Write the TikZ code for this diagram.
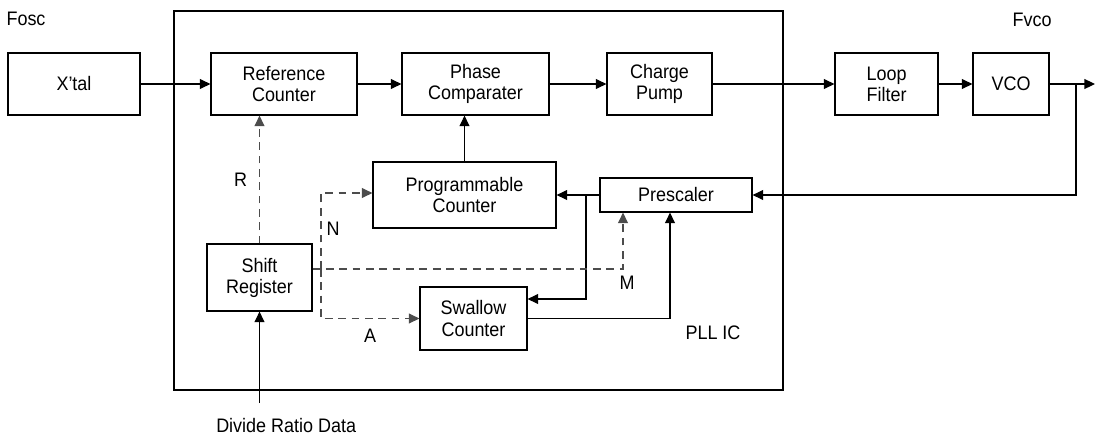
\documentclass[tikz,border=0pt]{standalone}
\usepackage{fontspec}
\setmainfont{Liberation Sans}[FakeStretch=0.92]
\usetikzlibrary{arrows.meta}
\begin{document}
\begin{tikzpicture}[x=0.025cm,y=-0.025cm,
    font=\fontsize{13.9}{15}\selectfont,
    line width=0.8pt,
    blk/.style={draw, align=center, inner sep=0pt, minimum height=1.55cm},
    arr/.style={-{Triangle[length=7.5pt,width=7pt]}},
    dsh/.style={dash pattern=on 5.5pt off 4pt, draw=black!70}]
    \useasboundingbox (0,0) rectangle (1095,435);
    % PLL IC outline
    \draw (174,11) rectangle (783,390);
    \node (pll) at (713,333) {PLL IC};
    \node (fosc) at (26,19) {Fosc};
    \node (fvco) at (1032,20) {Fvco};
    % main row
    \node[blk, minimum width=3.3cm] (xtal) at (74,84) {X'tal};
    \node[blk, minimum width=3.65cm] (ref) at (284,84) {Reference\\Counter};
    \node[blk, minimum width=3.675cm] (phase) at (475.5,84) {Phase\\Comparater};
    \node[blk, minimum width=2.625cm] (pump) at (659.5,84) {Charge\\Pump};
    \node[blk, minimum width=2.575cm] (filter) at (886.5,84) {Loop\\Filter};
    \node[blk, minimum width=1.9cm] (vco) at (1011,84) {VCO};
    % lower blocks
    \node[blk, minimum width=4.575cm, minimum height=1.65cm] (prog) at (464.5,195) {Programmable\\Counter};
    \node[blk, minimum width=3.8cm, minimum height=0.85cm] (pre) at (676,195) {Prescaler};
    \node[blk, minimum width=2.625cm, minimum height=1.675cm] (shift) at (259.5,277.5) {Shift\\Register};
    \node[blk, minimum width=2.675cm, minimum height=1.575cm] (swallow) at (473.5,318.5) {Swallow\\Counter};
    \coordinate (out) at (1095,84);
    \coordinate (tap) at (1076,84);
    \coordinate (split) at (586,195);
    \coordinate (data) at (259.5,403);
    % signal path
    \draw[arr] (xtal) -- (ref);
    \draw[arr] (ref) -- (phase);
    \draw[arr] (phase) -- (pump);
    \draw[arr] (pump) -- (filter);
    \draw[arr] (filter) -- (vco);
    \draw[arr] (vco) -- (out);
    \draw[arr] (tap) |- (pre.east);
    \draw[arr] (pre) -- (prog);
    \draw[arr] (split) |- (swallow.east |- 0,299);
    \draw[arr] (swallow.east) -| (pre.south -| 670,0);
    \draw[arr] (prog.north) -- (prog.north |- phase.south);
    \draw[arr] (data) -- (shift.south);
    \node[anchor=north west] (divide) at (211,413) {Divide Ratio Data};
    % control words
    \draw[arr, dsh] (shift.north) -- (shift.north |- ref.south) node[pos=0.5, left=5pt] (r) {R};
    \draw[arr, dsh] (shift.east |- 0,269) -| (pre.south -| 623,0);
    \node (m) at (627,283) {M};
    \draw[arr, dsh] (321,269) |- (prog.west |- 0,193);
    \node (n) at (333,229) {N};
    \draw[arr, dsh] (321,269) |- (swallow.west);
    \node (a) at (370,336) {A};
\end{tikzpicture}
\end{document}
